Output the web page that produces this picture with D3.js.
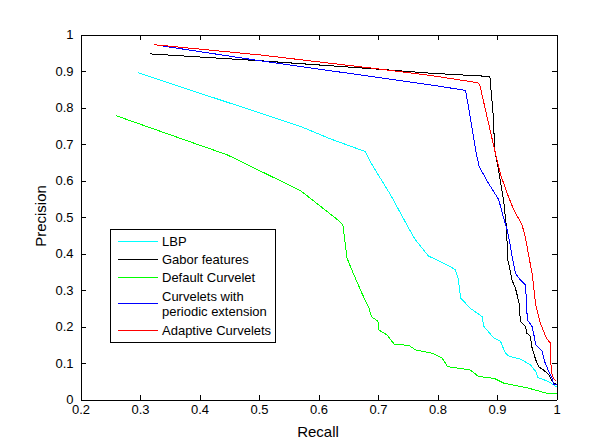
<!doctype html>
<html>
<head>
<meta charset="utf-8">
<title>Precision-Recall</title>
<script src="https://d3js.org/d3.v7.min.js"></script>
<style>
  body { margin: 0; background: #fff; }
  svg { display: block; font-family: "Liberation Sans", Arial, sans-serif; }
  .axis text { font-size: 13px; fill: #000; }
  .axis line, .axis path { stroke: #000; shape-rendering: crispEdges; }
  .curve { fill: none; stroke-width: 1; shape-rendering: crispEdges; }
</style>
</head>
<body>
<div id="chart"></div>
<script>

// (recall, precision)
var lbpRecall    = [0.297, 0.57, 0.62, 0.679, 0.687, 0.704, 0.721, 0.738, 0.753, 0.763, 0.785, 0.822, 0.83, 0.835, 0.839, 0.855, 0.875, 0.878, 0.895, 0.906, 0.914, 0.921, 0.939, 0.956, 0.965, 0.969, 0.987, 0.995, 1.0];
var lbpPrecision = [0.895, 0.748, 0.714, 0.679, 0.652, 0.606, 0.561, 0.51, 0.465, 0.437, 0.393, 0.364, 0.355, 0.33, 0.278, 0.25, 0.227, 0.2, 0.168, 0.159, 0.127, 0.118, 0.111, 0.095, 0.077, 0.06, 0.049, 0.04, 0.035];

var gaborRecall    = [0.316, 0.502, 0.7, 0.788, 0.888, 0.889, 0.894, 0.896, 0.903, 0.911, 0.916, 0.918, 0.922, 0.925, 0.931, 0.938, 0.939, 0.948, 0.95, 0.956, 0.959, 0.965, 0.97, 0.978, 0.987, 0.993, 1.0];
var gaborPrecision = [0.947, 0.928, 0.905, 0.894, 0.885, 0.867, 0.771, 0.685, 0.625, 0.547, 0.47, 0.383, 0.355, 0.328, 0.305, 0.259, 0.214, 0.2, 0.182, 0.173, 0.141, 0.109, 0.09, 0.081, 0.068, 0.049, 0.04];

var defaultRecall    = [0.259, 0.447, 0.57, 0.634, 0.641, 0.648, 0.657, 0.673, 0.685, 0.689, 0.7, 0.701, 0.715, 0.727, 0.752, 0.763, 0.791, 0.808, 0.817, 0.855, 0.869, 0.895, 0.911, 0.953, 0.984, 1.0];
var defaultPrecision = [0.778, 0.67, 0.572, 0.49, 0.479, 0.387, 0.351, 0.291, 0.25, 0.227, 0.214, 0.191, 0.177, 0.152, 0.148, 0.136, 0.127, 0.113, 0.09, 0.081, 0.063, 0.058, 0.045, 0.031, 0.017, 0.017];

var periodicRecall    = [0.332, 0.502, 0.788, 0.847, 0.85, 0.864, 0.87, 0.884, 0.903, 0.909, 0.917, 0.922, 0.927, 0.931, 0.939, 0.948, 0.951, 0.959, 0.962, 0.965, 0.976, 0.98, 0.987, 0.993, 0.995, 1.0];
var periodicPrecision = [0.97, 0.928, 0.862, 0.847, 0.821, 0.684, 0.638, 0.597, 0.547, 0.51, 0.465, 0.424, 0.378, 0.346, 0.328, 0.314, 0.218, 0.2, 0.177, 0.15, 0.132, 0.104, 0.077, 0.058, 0.04, 0.04];

var adaptiveRecall    = [0.324, 0.502, 0.699, 0.788, 0.867, 0.871, 0.896, 0.906, 0.918, 0.928, 0.942, 0.948, 0.953, 0.959, 0.965, 0.973, 0.983, 0.99, 0.991, 0.995, 1.0];
var adaptivePrecision = [0.972, 0.944, 0.906, 0.888, 0.868, 0.862, 0.684, 0.616, 0.561, 0.52, 0.479, 0.442, 0.396, 0.346, 0.259, 0.209, 0.168, 0.154, 0.077, 0.058, 0.05];

var seriesNames  = ["LBP", "Gabor features", "Default Curvelet", "Curvelets with\nperiodic extension", "Adaptive Curvelets"];
var seriesColors = ["#00ffff", "#000000", "#00ff00", "#0000ff", "#ff0000"];

var xTicks = [0.2, 0.3, 0.4, 0.5, 0.6, 0.7, 0.8, 0.9, 1];
var yTicks = [0, 0.1, 0.2, 0.3, 0.4, 0.5, 0.6, 0.7, 0.8, 0.9, 1];

var series = [
  { x: lbpRecall, y: lbpPrecision },
  { x: gaborRecall, y: gaborPrecision },
  { x: defaultRecall, y: defaultPrecision },
  { x: periodicRecall, y: periodicPrecision },
  { x: adaptiveRecall, y: adaptivePrecision }
];

var width = 614, height = 448;

var x = d3.scaleLinear().domain([0.2, 1]).range([80.5, 556.5]);
var y = d3.scaleLinear().domain([0, 1]).range([399.5, 34.5]);

var svg = d3.select("#chart").append("svg")
  .attr("width", width)
  .attr("height", height);

var fmt = function(d) { return d3.format("")(+d.toFixed(1)); };

// axes, ticks point inward on all four sides
svg.append("g").attr("class", "axis")
  .attr("transform", "translate(0," + y(0) + ")")
  .call(d3.axisBottom(x).tickValues(xTicks).tickSizeInner(-5).tickSizeOuter(0).tickPadding(5).tickFormat(fmt));
svg.append("g").attr("class", "axis")
  .attr("transform", "translate(0," + y(1) + ")")
  .call(d3.axisTop(x).tickValues(xTicks).tickSizeInner(-5).tickSizeOuter(0).tickFormat(""));
svg.append("g").attr("class", "axis")
  .attr("transform", "translate(" + x(0.2) + ",0)")
  .call(d3.axisLeft(y).tickValues(yTicks).tickSizeInner(-5).tickSizeOuter(0).tickPadding(7).tickFormat(fmt));
svg.append("g").attr("class", "axis")
  .attr("transform", "translate(" + x(1) + ",0)")
  .call(d3.axisRight(y).tickValues(yTicks).tickSizeInner(-5).tickSizeOuter(0).tickFormat(""));

svg.selectAll(".axis text").attr("font-family", null);

// curves
var line = d3.line()
  .x(function(d) { return x(d[0]); })
  .y(function(d) { return y(d[1]); });

series.forEach(function(s, i) {
  var pts = s.x.map(function(v, j) { return [v, s.y[j]]; });
  svg.append("path")
    .attr("class", "curve")
    .attr("d", line(pts))
    .attr("stroke", seriesColors[i]);
});

// axis titles
svg.append("text")
  .attr("x", 318)
  .attr("y", 437)
  .attr("text-anchor", "middle")
  .style("font-size", "15px")
  .text("Recall");

svg.append("text")
  .attr("transform", "translate(46,216) rotate(-90)")
  .attr("text-anchor", "middle")
  .style("font-size", "15px")
  .text("Precision");

// legend
var legend = svg.append("g");
legend.append("rect")
  .attr("x", 110.5).attr("y", 229.5)
  .attr("width", 165).attr("height", 113)
  .attr("fill", "#fff").attr("stroke", "#000")
  .style("shape-rendering", "crispEdges");

var rowY = [241, 259, 277, 303, 330];
seriesNames.forEach(function(name, i) {
  legend.append("line")
    .attr("x1", 118).attr("x2", 158)
    .attr("y1", rowY[i] + 0.5).attr("y2", rowY[i] + 0.5)
    .attr("stroke", seriesColors[i])
    .style("shape-rendering", "crispEdges");
  var parts = name.split("\n");
  var t = legend.append("text")
    .attr("x", 162)
    .style("font-size", "13px");
  if (parts.length == 1) {
    t.attr("y", rowY[i] + 5).text(name);
  } else {
    t.append("tspan").attr("x", 162).attr("y", rowY[i] - 2).text(parts[0]);
    t.append("tspan").attr("x", 162).attr("y", rowY[i] + 13).text(parts[1]);
  }
});

</script>
</body>
</html>
